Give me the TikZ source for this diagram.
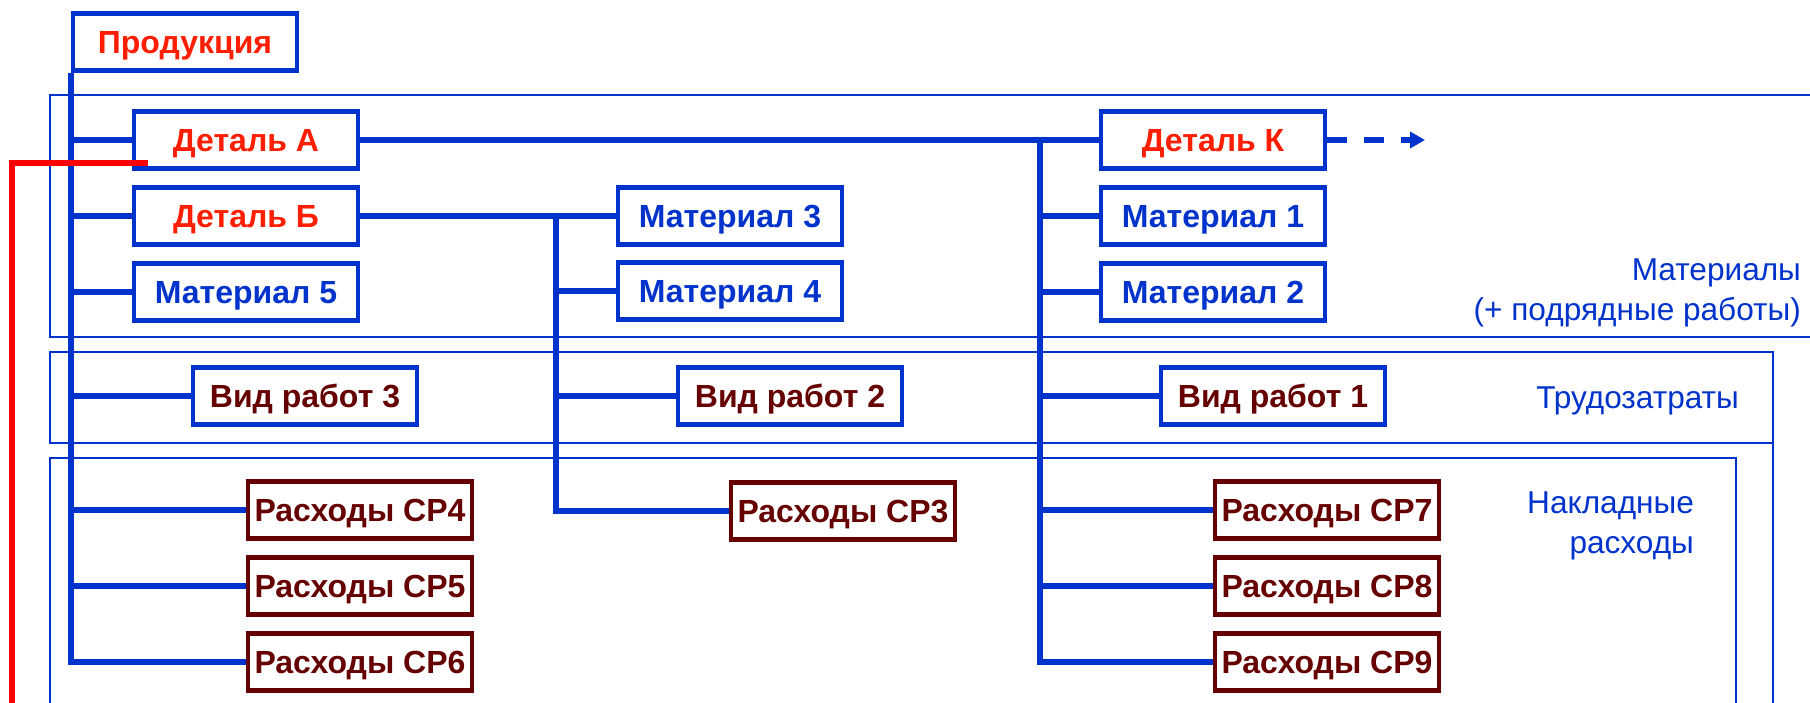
\documentclass[tikz,border=0pt]{standalone}
\usepackage{fontspec}
\setmainfont{Liberation Sans}
\usetikzlibrary{arrows.meta}
\definecolor{schblue}{RGB}{0,51,204}
\definecolor{schred}{RGB}{255,30,0}
\definecolor{schbrown}{RGB}{102,0,0}

\begin{document}
\begin{tikzpicture}[x=0.5pt,y=-0.5pt,
  box/.style={draw=schblue,line width=2.2pt,fill=white,minimum width=112pt,minimum height=28.4pt,inner sep=2pt,text height=11.5pt,text depth=0pt,font=\fontsize{16}{18}\selectfont\bfseries},
  part/.style={box,text=schred},
  mat/.style={box,text=schblue},
  work/.style={box,text=schbrown},
  cost/.style={box,draw=schbrown,text=schbrown},
  link/.style={draw=schblue,line width=2.8pt},
  zone/.style={draw=schblue,line width=0.9pt},
  zonetext/.style={text=schblue,align=right,anchor=east,font=\fontsize{15.8}{20}\selectfont}]
				\useasboundingbox (0,0) rectangle (1810,702);
				\clip (0,0) rectangle (1810,702);
				% zones
				\draw[zone] (50,95) rectangle (1830,337);
				\draw[zone] (50,352) rectangle (1773,443);
				\draw[zone] (1773,443) -- (1773,720);
				\draw[zone] (50,720) -- (50,458) -- (1736,458) -- (1736,720);
				\node[zonetext] (zmat) at (1808,293) {Материалы\\(+ подрядные работы)};
				\node[zonetext] (zlab) at (1746,401) {Трудозатраты};
				\node[zonetext] (zover) at (1701,526) {Накладные\\расходы};
				% boxes
				\node[part] (prod) at (185,42) {Продукция};
				\node[part] (detA) at (246,140) {Деталь А};
				\node[part] (detB) at (246,216) {Деталь Б};
				\node[mat] (mat5) at (246,292) {Материал 5};
				\node[work] (vr3) at (305,396) {Вид работ 3};
				\node[cost] (cr4) at (360,510) {Расходы СР4};
				\node[cost] (cr5) at (360,586) {Расходы СР5};
				\node[cost] (cr6) at (360,662) {Расходы СР6};
				\node[mat] (mat3) at (730,216) {Материал 3};
				\node[mat] (mat4) at (730,291) {Материал 4};
				\node[work] (vr2) at (790,396) {Вид работ 2};
				\node[cost] (cr3) at (843,511) {Расходы СР3};
				\node[part] (detK) at (1213,140) {Деталь К};
				\node[mat] (mat1) at (1213,216) {Материал 1};
				\node[mat] (mat2) at (1213,292) {Материал 2};
				\node[work] (vr1) at (1273,396) {Вид работ 1};
				\node[cost] (cr7) at (1327,510) {Расходы СР7};
				\node[cost] (cr8) at (1327,586) {Расходы СР8};
				\node[cost] (cr9) at (1327,662) {Расходы СР9};
				\coordinate (jB) at (556,216);
				\coordinate (jK) at (1040,140);
				\coordinate (next) at (1425,140);
				% links
				\draw[link] (prod.south west) -- (prod.south west |- cr6.west) -- (cr6.west);
				\foreach \n in {detA,detB,mat5,vr3,cr4,cr5}
					\draw[link] (prod.south west |- \n.west) -- (\n.west);
				\draw[link] (detA.east) -- (detK.west);
				\draw[link] (detB.east) -- (mat3.west);
				\draw[link] (jB) -- (jB |- cr3.west) -- (cr3.west);
				\foreach \n in {mat4,vr2}
					\draw[link] (jB |- \n.west) -- (\n.west);
				\draw[link] (jK) -- (jK |- cr9.west) -- (cr9.west);
				\foreach \n in {mat1,mat2,vr1,cr7,cr8}
					\draw[link] (jK |- \n.west) -- (\n.west);
				\draw[link,dash pattern=on 10pt off 8.5pt,-{Triangle[length=7.5pt,width=8pt]}] (detK.east) -- (next);
				% red return line
				\coordinate (redA) at (148,163);
				\coordinate (redB) at (12,720);
				\draw[red,line width=2.8pt] (redA) -- (redA -| redB) -- (redB);
			\end{tikzpicture}
\end{document}
